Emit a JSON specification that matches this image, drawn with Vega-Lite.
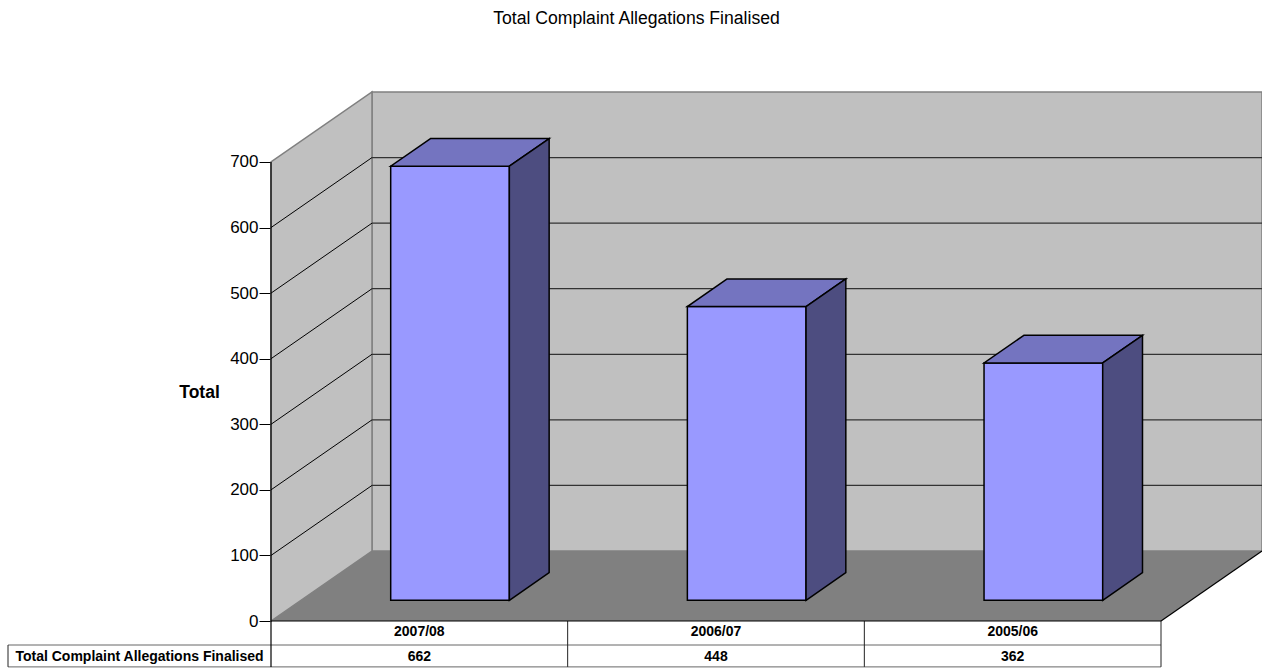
{
  "$schema": "https://vega.github.io/schema/vega-lite/v6.json",
  "width": 991,
  "height": 575,
  "autosize": {"type": "none"},
  "padding": {"left": 271, "top": 92, "right": 0, "bottom": 2},
  "background": "white",
  "config": {"view": {"stroke": null}, "font": "Liberation Sans"},
  "title": {
    "text": "Total Complaint Allegations Finalised",
    "font": "Liberation Sans",
    "fontSize": 17.6,
    "fontWeight": "normal",
    "color": "black",
    "anchor": "middle",
    "frame": "group",
    "dx": -130,
    "offset": 61
  },
  "params": [
    {"name": "depthX", "value": 0.3404},
    {"name": "depthY", "value": 106.75},
    {"name": "nearZ", "value": 0.296},
    {"name": "farZ", "value": 0.69},
    {"name": "barLeft", "value": 0.3027},
    {"name": "barWidth", "value": 0.4},
    {"name": "span", "value": 3},
    {"name": "levelTop", "value": 700},
    {"name": "headerBottom", "value": -36.6},
    {"name": "tableBottom", "value": -70},
    {"name": "labelLeft", "value": -0.8865},
    {"name": "headerMid", "value": -16.8},
    {"name": "valueMid", "value": -54.4}
  ],
  "datasets": {
    "allegations": [
      {"period": "2007/08", "total": 662},
      {"period": "2006/07", "total": 448},
      {"period": "2005/06", "total": 362}
    ],
    "levels": [
      {"level": 100}, {"level": 200}, {"level": 300},
      {"level": 400}, {"level": 500}, {"level": 600}
    ],
    "series": [
      {"series": "Total Complaint Allegations Finalised"}
    ]
  },
  "data": {"name": "allegations"},
  "encoding": {
    "x": {
      "field": "gx",
      "type": "quantitative",
      "scale": {"domain": [0, 3.3404], "nice": false, "zero": false},
      "axis": null
    },
    "y": {
      "field": "gy",
      "type": "quantitative",
      "scale": {"domain": [-70.15, 806.75], "nice": false, "zero": false},
      "axis": {
        "values": [0, 100, 200, 300, 400, 500, 600, 700],
        "format": "d",
        "title": "Total",
        "domain": false,
        "grid": false,
        "ticks": true,
        "tickSize": 12,
        "tickColor": "black",
        "tickWidth": 1,
        "labelPadding": 1,
        "labelFont": "Liberation Sans",
        "labelFontSize": 17,
        "labelColor": "black",
        "labelFlush": false,
        "labelOverlap": false,
        "titleFont": "Liberation Sans",
        "titleFontSize": 17.5,
        "titleFontWeight": "bold",
        "titleColor": "black",
        "titleAngle": 0,
        "titleAlign": "center",
        "titleBaseline": "middle",
        "titleX": -72,
        "titleY": 300
      }
    }
  },
  "layer": [
    {
      "data": {"values": [{"part": "back wall"}]},
      "transform": [
        {"calculate": "depthX", "as": "gx"},
        {"calculate": "span + depthX", "as": "gx2"},
        {"calculate": "depthY", "as": "gy"},
        {"calculate": "levelTop + depthY", "as": "gy2"}
      ],
      "mark": {"type": "rect", "fill": "#C0C0C0", "stroke": "#808080", "strokeWidth": 1.5},
      "encoding": {"x2": {"field": "gx2"}, "y2": {"field": "gy2"}}
    },
    {
      "data": {"values": [{"part": "side wall"}]},
      "transform": [
        {"calculate": "[0, 1]", "as": "t"},
        {"flatten": ["t"]},
        {"calculate": "datum.t * depthX", "as": "gx"},
        {"calculate": "datum.t * depthY", "as": "gy"},
        {"calculate": "levelTop + datum.t * depthY", "as": "gy2"}
      ],
      "mark": {"type": "area", "orient": "vertical", "fill": "#C0C0C0", "stroke": "#808080", "strokeWidth": 1.5},
      "encoding": {"y2": {"field": "gy2"}}
    },
    {
      "data": {"values": [{"part": "floor"}]},
      "transform": [
        {"calculate": "[0, 1]", "as": "t"},
        {"flatten": ["t"]},
        {"calculate": "datum.t * depthX", "as": "gx"},
        {"calculate": "span + datum.t * depthX", "as": "gx2"},
        {"calculate": "datum.t * depthY", "as": "gy"}
      ],
      "mark": {"type": "area", "orient": "horizontal", "fill": "#808080"},
      "encoding": {"x2": {"field": "gx2"}}
    },
    {
      "data": {"name": "levels"},
      "transform": [
        {"calculate": "depthX", "as": "gx"},
        {"calculate": "span + depthX", "as": "gx2"},
        {"calculate": "datum.level + depthY", "as": "gy"}
      ],
      "mark": {"type": "rule", "color": "#333333", "strokeWidth": 1.2},
      "encoding": {"x2": {"field": "gx2"}}
    },
    {
      "data": {"name": "levels"},
      "transform": [
        {"calculate": "0", "as": "gx"},
        {"calculate": "depthX", "as": "gx2"},
        {"calculate": "datum.level", "as": "gy"},
        {"calculate": "datum.level + depthY", "as": "gy2"}
      ],
      "mark": {"type": "rule", "color": "black", "strokeWidth": 1},
      "encoding": {"x2": {"field": "gx2"}, "y2": {"field": "gy2"}}
    },
    {
      "transform": [
        {"window": [{"op": "row_number", "as": "rank"}]},
        {"calculate": "datum.rank - 1", "as": "slot"},
        {"calculate": "datum.slot + barLeft + nearZ * depthX", "as": "gx"},
        {"calculate": "datum.gx + barWidth", "as": "gx2"},
        {"calculate": "nearZ * depthY", "as": "gy"},
        {"calculate": "datum.total + nearZ * depthY", "as": "gy2"}
      ],
      "mark": {"type": "rect", "fill": "#9999FF", "stroke": "black", "strokeWidth": 1.5, "strokeJoin": "miter"},
      "encoding": {"x2": {"field": "gx2"}, "y2": {"field": "gy2"}}
    },
    {
      "transform": [
        {"window": [{"op": "row_number", "as": "rank"}]},
        {"calculate": "datum.rank - 1", "as": "slot"},
        {"calculate": "[nearZ, farZ]", "as": "z"},
        {"flatten": ["z"]},
        {"calculate": "datum.slot + barLeft + datum.z * depthX", "as": "gx"},
        {"calculate": "datum.gx + barWidth", "as": "gx2"},
        {"calculate": "datum.total + datum.z * depthY", "as": "gy"}
      ],
      "mark": {"type": "area", "orient": "horizontal", "fill": "#7474C0", "stroke": "black", "strokeWidth": 1.5, "strokeJoin": "miter"},
      "encoding": {"x2": {"field": "gx2"}, "detail": {"field": "period"}}
    },
    {
      "transform": [
        {"window": [{"op": "row_number", "as": "rank"}]},
        {"calculate": "datum.rank - 1", "as": "slot"},
        {"calculate": "[nearZ, farZ]", "as": "z"},
        {"flatten": ["z"]},
        {"calculate": "datum.slot + barLeft + barWidth + datum.z * depthX", "as": "gx"},
        {"calculate": "datum.z * depthY", "as": "gy"},
        {"calculate": "datum.total + datum.z * depthY", "as": "gy2"}
      ],
      "mark": {"type": "area", "orient": "vertical", "fill": "#4D4D80", "stroke": "black", "strokeWidth": 1.5, "strokeJoin": "miter"},
      "encoding": {"y2": {"field": "gy2"}, "detail": {"field": "period"}}
    },
    {
      "data": {"values": [{"line": "divider"}, {"line": "bottom"}]},
      "transform": [
        {"calculate": "labelLeft", "as": "gx"},
        {"calculate": "span", "as": "gx2"},
        {"calculate": "datum.line == 'divider' ? headerBottom : tableBottom", "as": "gy"}
      ],
      "mark": {"type": "rule", "color": "#666666", "strokeWidth": 1},
      "encoding": {"x2": {"field": "gx2"}}
    },
    {
      "transform": [
        {"window": [{"op": "row_number", "as": "rank"}]},
        {"calculate": "datum.rank", "as": "gx"},
        {"calculate": "0", "as": "gy"},
        {"calculate": "tableBottom", "as": "gy2"}
      ],
      "mark": {"type": "rule", "color": "#222222", "strokeWidth": 1},
      "encoding": {"y2": {"field": "gy2"}}
    },
    {
      "data": {"name": "series"},
      "transform": [
        {"calculate": "labelLeft", "as": "gx"},
        {"calculate": "headerBottom", "as": "gy"},
        {"calculate": "tableBottom", "as": "gy2"}
      ],
      "mark": {"type": "rule", "color": "#222222", "strokeWidth": 1},
      "encoding": {"y2": {"field": "gy2"}}
    },
    {
      "data": {"values": [{"edge": "axis"}, {"edge": "front"}, {"edge": "right"}]},
      "transform": [
        {"calculate": "datum.edge == 'right' ? span : 0", "as": "gx"},
        {"calculate": "datum.edge == 'front' ? span : (datum.edge == 'right' ? span + depthX : 0)", "as": "gx2"},
        {"calculate": "datum.edge == 'axis' ? tableBottom : 0", "as": "gy"},
        {"calculate": "datum.edge == 'axis' ? levelTop : (datum.edge == 'right' ? depthY : 0)", "as": "gy2"}
      ],
      "mark": {"type": "rule", "color": "black", "strokeWidth": 1.2},
      "encoding": {"x2": {"field": "gx2"}, "y2": {"field": "gy2"}}
    },
    {
      "transform": [
        {"window": [{"op": "row_number", "as": "rank"}]},
        {"calculate": "datum.rank - 0.5", "as": "gx"},
        {"calculate": "headerMid", "as": "gy"}
      ],
      "mark": {"type": "text", "font": "Liberation Sans", "fontSize": 14, "fontWeight": "bold", "color": "black", "align": "center", "baseline": "middle"},
      "encoding": {"text": {"field": "period"}}
    },
    {
      "transform": [
        {"window": [{"op": "row_number", "as": "rank"}]},
        {"calculate": "datum.rank - 0.5", "as": "gx"},
        {"calculate": "valueMid", "as": "gy"}
      ],
      "mark": {"type": "text", "font": "Liberation Sans", "fontSize": 14, "fontWeight": "bold", "color": "black", "align": "center", "baseline": "middle"},
      "encoding": {"text": {"field": "total", "type": "quantitative", "format": "d"}}
    },
    {
      "data": {"name": "series"},
      "transform": [
        {"calculate": "labelLeft / 2", "as": "gx"},
        {"calculate": "valueMid", "as": "gy"}
      ],
      "mark": {"type": "text", "font": "Liberation Sans", "fontSize": 14, "fontWeight": "bold", "color": "black", "align": "center", "baseline": "middle"},
      "encoding": {"text": {"field": "series"}}
    }
  ]
}
